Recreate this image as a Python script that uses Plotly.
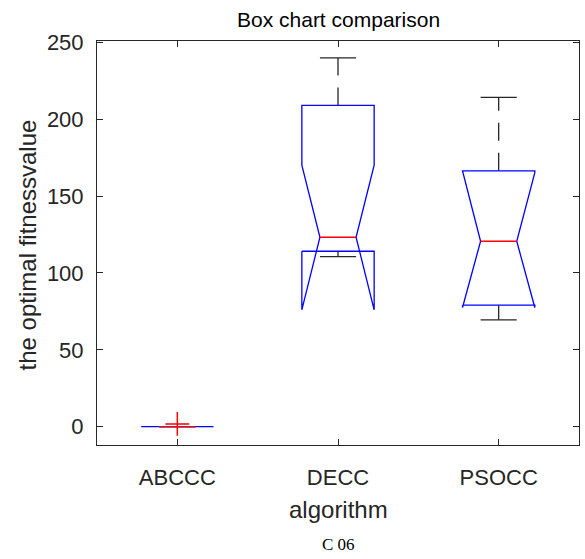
import plotly.graph_objects as go

categories = ["ABCCC", "DECC", "PSOCC"]
q1 = [0.0, 114.1, 79.0]
median = [0.0, 123.2, 120.6]
q3 = [0.0, 208.9, 166.4]
notch_lo = [0.0, 76.0, 77.5]
notch_hi = [0.0, 170.1, 165.2]
whisker_lo = [0.0, 110.6, 69.5]
whisker_hi = [0.0, 239.8, 214.1]
outlier_cat = ["ABCCC"]
outlier_val = [1.8]

y_ticks = [0, 50, 100, 150, 200, 250]

W = 0.225  # box half width (category units)
BLUE = "#0000FF"
RED = "#FF0000"
BLACK = "#262626"

fig = go.Figure()

for i, cat in enumerate(categories):
    x = i + 1
    # whiskers (dashed)
    fig.add_trace(go.Scatter(x=[x, x], y=[q3[i], whisker_hi[i]], mode="lines",
                             line=dict(color=BLACK, width=1.3, dash="18px,12px"),
                             showlegend=False, hoverinfo="skip"))
    fig.add_trace(go.Scatter(x=[x, x], y=[q1[i], whisker_lo[i]], mode="lines",
                             line=dict(color=BLACK, width=1.3, dash="18px,12px"),
                             showlegend=False, hoverinfo="skip"))
    # caps
    for v in (whisker_hi[i], whisker_lo[i]):
        fig.add_trace(go.Scatter(x=[x - W / 2, x + W / 2], y=[v, v], mode="lines",
                                 line=dict(color=BLACK, width=1.3),
                                 showlegend=False, hoverinfo="skip"))
    # notched box outline
    bx = [x - W, x - W, x - W / 2, x - W, x - W, x + W, x + W, x + W / 2, x + W, x + W, x - W]
    by = [q1[i], notch_lo[i], median[i], notch_hi[i], q3[i], q3[i], notch_hi[i], median[i],
          notch_lo[i], q1[i], q1[i]]
    fig.add_trace(go.Scatter(x=bx, y=by, mode="lines",
                             line=dict(color=BLUE, width=1.3),
                             showlegend=False, hoverinfo="skip"))
    # median
    fig.add_trace(go.Scatter(x=[x - W / 2, x + W / 2], y=[median[i], median[i]], mode="lines",
                             line=dict(color=RED, width=1.3),
                             showlegend=False, hoverinfo="skip"))

# outliers
fig.add_trace(go.Scatter(x=[categories.index(c) + 1 for c in outlier_cat], y=outlier_val,
                         mode="markers",
                         marker=dict(symbol="cross-thin", size=17, line=dict(color=RED, width=1.5)),
                         showlegend=False, hoverinfo="skip"))

axis_common = dict(showline=True, linecolor=BLACK, linewidth=1, mirror="ticks",
                   ticks="inside", ticklen=6, tickcolor=BLACK, showgrid=False, zeroline=False,
                   tickfont=dict(family="Liberation Sans, Arial", size=22, color=BLACK))

fig.update_xaxes(range=[0.5, 3.5], tickvals=[1, 2, 3], ticktext=categories,
                 ticklabelstandoff=13, **axis_common)
fig.update_yaxes(range=[-11.9, 250.8], tickvals=y_ticks, ticklabelstandoff=8, **axis_common)

fig.update_layout(
    width=585, height=559,
    margin=dict(l=97, r=6, t=41, b=114, autoexpand=False),
    plot_bgcolor="white", paper_bgcolor="white",
    showlegend=False,
    annotations=[
        dict(text="Box chart comparison", xref="paper", yref="paper", x=0.5, y=1.0537,
             xanchor="center", yanchor="middle", showarrow=False,
             font=dict(family="Liberation Sans, Arial", size=21, color="black")),
        dict(text="algorithm", xref="paper", yref="paper", x=0.5, y=-0.16,
             xanchor="center", yanchor="middle", showarrow=False,
             font=dict(family="Liberation Sans, Arial", size=24, color=BLACK)),
        dict(text="the optimal fitnessvalue", xref="paper", yref="paper", x=-0.1444, y=0.495,
             xanchor="center", yanchor="middle", showarrow=False, textangle=-90,
             font=dict(family="Liberation Sans, Arial", size=24, color=BLACK)),
        dict(text="C 06", xref="paper", yref="paper", x=0.5, y=-0.247,
             xanchor="center", yanchor="middle", showarrow=False,
             font=dict(family="Liberation Serif, Times New Roman", size=17, color="black")),
    ],
)

fig.write_html("out.html", config={"displayModeBar": False},
               post_script="document.body.style.margin='0';document.body.style.overflow='hidden';")
